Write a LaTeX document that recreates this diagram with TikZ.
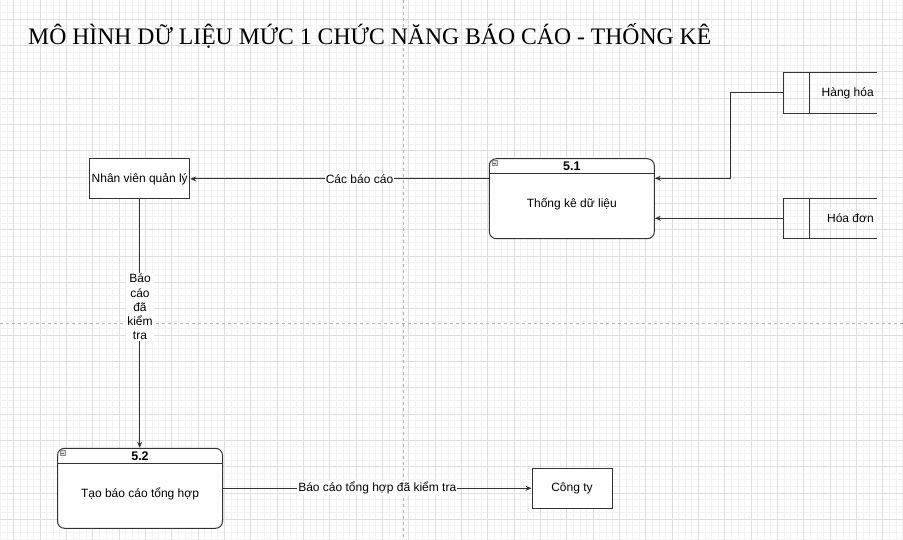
\documentclass[tikz,border=0pt]{standalone}
\usepackage{fontspec}
\setmainfont{Liberation Serif}
\setsansfont{Liberation Sans}
\usepackage{tikz}
\usetikzlibrary{calc}
\usetikzlibrary{arrows.meta}
\usetikzlibrary{positioning}

\begin{document}
\begin{tikzpicture}[x=1pt,y=-1pt,
    gridminor/.style={black!5,line width=0.8pt},
    gridmajor/.style={black!13,line width=0.8pt},
    pagebreak/.style={black!30,line width=0.8pt,dash pattern=on 3pt off 3pt},
    boxline/.style={draw=black!80,line width=1pt},
    entity/.style={boxline,fill=white,inner sep=0pt,minimum height=40pt,
      font=\sffamily\fontsize{12}{14}\selectfont},
    proc/.style={boxline,fill=white,rounded corners=7pt,inner sep=0pt,
      minimum width=165pt,minimum height=80pt},
    store/.style={inner sep=0pt,minimum width=93.4pt,minimum height=40pt},
    txt/.style={inner sep=0pt,font=\sffamily\fontsize{12}{14}\selectfont},
    head/.style={inner sep=0pt,font=\sffamily\bfseries\fontsize{12.5}{14}\selectfont},
    lbl/.style={fill=white,inner sep=1pt,align=center,
      font=\sffamily\fontsize{12}{14.3}\selectfont},
    flow/.style={draw=black!80,line width=1pt,-{Stealth[length=6pt,width=5pt]}}]
  \useasboundingbox (0,0) rectangle (903,540);
  \fill[white] (0,0) rectangle (903,540);

  \foreach \i in {0,...,137}
    \draw[gridminor] ({0.63+6.583*\i},0) -- ++(0,540);
  \foreach \j in {0,...,81}
    \draw[gridminor] (0,{5.83+6.583*\j}) -- ++(903,0);
  \foreach \i in {0,...,33}
    \draw[gridmajor] ({13.8+26.333*\i},0) -- ++(0,540);
  \foreach \j in {0,...,19}
    \draw[gridmajor] (0,{19+26.333*\j}) -- ++(903,0);
  \draw[pagebreak] (403,0) -- (403,540);
  \draw[pagebreak] (0,323.3) -- (903,323.3);

  \node[anchor=base west,inner sep=0pt,font=\fontsize{23.7}{28}\selectfont]
    (title) at (28,44.5) {MÔ HÌNH DỮ LIỆU MỨC 1 CHỨC NĂNG BÁO CÁO - THỐNG KÊ};

  \node[entity,minimum width=100pt] (nv) at (139.7,178.9) {Nhân viên quản lý};
  \node[entity,minimum width=80pt] (ct) at (572,488.3) {Công ty};

  \node[proc] (p51) at (571.8,198.7) {};
  \node[proc] (p52) at (140,488.3) {};
  \foreach \p/\n/\t in {p51/5.1/Thống kê dữ liệu,p52/5.2/Tạo báo cáo tổng hợp} {
    \draw[boxline] ($(\p.north west)+(0,15.5)$) -- ($(\p.north east)+(0,15.5)$);
    \draw[black!45,fill=black!12,line width=0.6pt]
      ($(\p.north west)+(3,2.5)$) rectangle ++(5,5);
    \draw[black!60,line width=0.6pt]
      ($(\p.north west)+(4.2,5)$) -- ++(2.6,0);
    \node[head] (\p head) at ($(\p.north)+(0,8.5)$) {\n};
    \node[txt] (\p body) at ($(\p.north)+(0,46)$) {\t};
  }

  \node[store] (hh) at (830,93) {};
  \node[store] (hd) at (830,218.3) {};
  \foreach \s/\t in {hh/Hàng hóa,hd/Hóa đơn} {
    \draw[boxline] (\s.north east) -- (\s.north west) -- (\s.south west)
      -- (\s.south east);
    \draw[boxline] ($(\s.north west)+(26.4,0)$) -- ($(\s.south west)+(26.4,0)$);
    \node[txt,anchor=east] (\s text) at ($(\s.east)+(-3,0)$) {\t};
  }

  \coordinate (bend) at (730,178.3);
  \draw[flow] (hh.west) -| (bend) -- (bend -| p51.east);
  \draw[flow] (hd.west) -- (hd.west -| p51.east);
  \draw[flow] (p51.west |- nv.east) -- node[lbl,pos=0.433] (lcac) {Các báo cáo} (nv.east);
  \draw[flow] (nv.south) -- (nv.south |- p52.north);
  \node[lbl] (lkt) at (140,307) {Báo\\cáo\\đã\\kiểm\\tra};
  \draw[flow] (p52.east) -- node[lbl] (lth) {Báo cáo tổng hợp đã kiểm tra} (ct.west);
\end{tikzpicture}
\end{document}
